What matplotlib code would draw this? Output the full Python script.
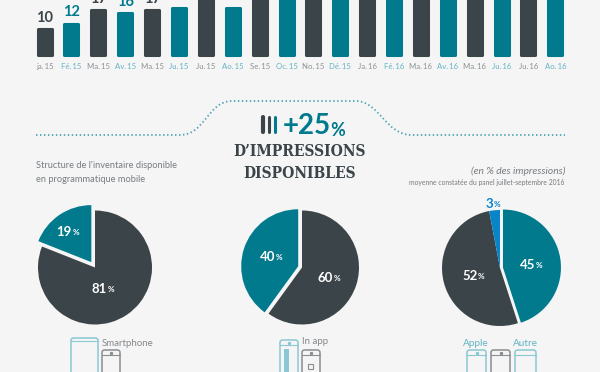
import matplotlib
matplotlib.use("Agg")
import matplotlib.pyplot as plt
from matplotlib.patches import FancyBboxPatch, PathPatch, Rectangle
from matplotlib.path import Path

DARK = '#3b4449'
TEAL = '#007a8c'
BLUE = '#0a84c8'
BG = '#f5f5f5'
GREY = '#8b9093'
LTEAL = '#62b3c2'
FONT = 'Lato'

months = ['ja.\u200915', 'Fé.\u200915', 'Ma.\u200915', 'Av.\u200915', 'Ma.\u200915', 'Ju.\u200915', 'Ju.\u200915',
          'Ao.\u200915', 'Se.\u200915', 'Oc.\u200915', 'No.\u200915', 'Dé.\u200915', 'Ja.\u200916', 'Fé.\u200916',
          'Ma.\u200916', 'Av.\u200916', 'Ma.\u200916', 'Ju.\u200916', 'Ju.\u200916', 'Ao.\u200916']
# the tops above 18 are cut off by the picture, so those are guesses
impressions = [10, 12, 17, 16, 17, 18, 21, 18, 21, 22, 22, 23, 23, 24, 24, 25, 25, 26, 26, 27]
labelled = 5  # only the first labels reach into the picture

pie_device = [81, 19]
pie_device_labels = ['81', '19']
pie_env = [60, 40]
pie_env_labels = ['60', '40']
pie_os = [45, 52, 3]
pie_os_labels = ['45', '52', '3']

fig = plt.figure(figsize=(6, 3.72), dpi=100, facecolor=BG)


def Y(y):
    return 372 - y


# --- page layer in pixels ---
ax = fig.add_axes([0, 0, 1, 1])
ax.set_facecolor(BG)

# --- bars ---
ax_bars = fig.add_axes([0, 1 - 55 / 372, 1, 55 / 372])
ax_bars.patch.set_alpha(0)
step = 26.88
ax_bars.set_xlim(-44.6 / step, (600 - 44.6) / step)
ax_bars.set_ylim(0, 55 / 2.62)
colors = [DARK if i % 2 == 0 else TEAL for i in range(len(impressions))]
bars = ax_bars.bar(range(len(impressions)), impressions, width=0.52, color=colors, edgecolor=colors,
                   linewidth=2.2, joinstyle='round', clip_on=False)
for sp in ax_bars.spines.values():
    sp.set_visible(False)
ax_bars.set_yticks([])
ax_bars.set_xticks(range(len(months)))
ax_bars.set_xticklabels(months, fontsize=5.6, family=FONT)
ax_bars.tick_params(axis='x', length=0, pad=5.5)
for i, t in enumerate(ax_bars.get_xticklabels()):
    t.set_color(GREY if i % 2 == 0 else LTEAL)
for i in range(labelled):
    ax_bars.annotate(str(impressions[i]), (i, impressions[i]), xytext=(0, 8), textcoords='offset points',
                     ha='center', va='center', fontsize=10.5, fontweight='bold', family=FONT, color=colors[i],
                     annotation_clip=False)

# --- dotted line ---
verts = [(36, 135), (180, 135), (205, 135), (208, 101), (232, 101), (355, 101), (380, 101), (385, 135),
         (412, 135), (565, 135)]
codes = [Path.MOVETO, Path.LINETO, Path.CURVE4, Path.CURVE4, Path.CURVE4, Path.LINETO, Path.CURVE4, Path.CURVE4,
         Path.CURVE4, Path.LINETO]
ax.add_patch(PathPatch(Path([(x, Y(y)) for x, y in verts], codes), fill=False, edgecolor='#4ea5b5', lw=1.3,
                       linestyle=(0, (0.8, 1.4))))

# --- headline ---
for x, c, lw in zip([263, 268.8, 274.5], [DARK, DARK, TEAL], [3, 2.2, 2.2]):
    ax.plot([x, x], [Y(117), Y(132)], color=c, lw=lw, solid_capstyle='round')
ax.text(283, Y(126), '+25', fontsize=20, fontweight='bold', family=FONT, color=TEAL, va='center', ha='left')
ax.text(345, Y(130), '%', fontsize=13, fontweight='bold', family=FONT, color=TEAL, va='center', ha='right')
ax.text(300, Y(152), "D’IMPRESSIONS", fontsize=11.2, fontweight='bold', family='DejaVu Serif', stretch='condensed',
        color=DARK, ha='center', va='center')
ax.text(300, Y(173), 'DISPONIBLES', fontsize=11.2, fontweight='bold', family='DejaVu Serif', stretch='condensed',
        color=DARK, ha='center', va='center')

# --- side text ---
ax.text(36, Y(166), "Structure de l'inventaire disponible", fontsize=6.7, family=FONT, color='#777c80', va='center')
ax.text(36, Y(180), 'en programmatique mobile', fontsize=6.7, family=FONT, color='#777c80', va='center')
ax.text(565, Y(171), '(en % des impressions)', fontsize=7.4, family=FONT, style='italic', color='#777c80',
        ha='right', va='center')
ax.text(564, Y(182), 'moyenne constatée du panel juillet-septembre 2016', fontsize=4.9, family=FONT, color='#777c80',
        ha='right', va='center')


# --- pies ---
def pct(x, y, value, color='white', size=9.5):
    t = ax.annotate(value, (x, Y(y)), fontsize=size, fontweight='bold', family=FONT, color=color,
                    ha='right', va='center')
    ax.annotate('%', xy=(1, 0.5), xycoords=t, xytext=(0.5, -0.5), textcoords='offset points', fontsize=size * 0.62,
                fontweight='bold', family=FONT, color=color, ha='left', va='center')


# explode is in the same pixel units as the radius here
ax.pie(pie_device, colors=[DARK, TEAL], startangle=90, counterclock=False, radius=57, center=(95, Y(267.5)),
       explode=[0, 6.5], frame=True)
pct(107, 289, pie_device_labels[0])
pct(71.7, 232, pie_device_labels[1])

ax.pie(pie_env, colors=[DARK, TEAL], startangle=90, counterclock=False, radius=57, center=(302, Y(267.5)),
       explode=[0, 4], frame=True)
pct(333.3, 277.7, pie_env_labels[0])
pct(275, 256.7, pie_env_labels[1])

ax.pie(pie_os, colors=[TEAL, DARK, BLUE], startangle=90, counterclock=False, radius=58, center=(500, Y(268)),
       explode=[3, 0, 0], frame=True)
pct(535, 265, pie_os_labels[0])
pct(477.3, 275.7, pie_os_labels[1])
pct(493, 204, pie_os_labels[2], color=BLUE)


# --- device icons, they run off the bottom of the picture ---
def device(x0, x1, top, color, speaker=True, screen_top=5):
    ax.add_patch(FancyBboxPatch((x0, Y(385)), x1 - x0, 385 - top, boxstyle='round,pad=0,rounding_size=2.5',
                                fill=False, edgecolor=color, lw=1.1))
    ax.plot([x0, x1], [Y(top + screen_top)] * 2, color=color, lw=0.8)
    if speaker:
        ax.plot([(x0 + x1) / 2], [Y(top + 2.5)], 's', ms=1.3, color=color)


ICON_T = '#8ac8d3'
ICON_G = '#8b8f92'
device(71, 98, 338, ICON_T, speaker=False, screen_top=3)
device(102, 120, 350, ICON_G)
ax.text(101.5, Y(343), 'Smartphone', fontsize=7, family=FONT, color='#85898c', va='center')

device(280, 298, 340, ICON_T)
ax.add_patch(Rectangle((284, Y(372)), 5, 372 - 349, color=ICON_T, lw=0))
device(302, 320, 350, ICON_G)
ax.add_patch(Rectangle((307.5, Y(369)), 5, 5, fill=False, edgecolor=ICON_G, lw=0.8))
ax.text(302, Y(342), 'In app', fontsize=7, family=FONT, color='#85898c', va='center')

device(467, 486, 350, ICON_T)
device(491, 510, 350, ICON_G)
device(515, 536, 350, ICON_T, speaker=False)
ax.text(476, Y(343), 'Apple', fontsize=7.2, family=FONT, color=LTEAL, ha='center', va='center')
ax.text(525, Y(343), 'Autre', fontsize=7.2, family=FONT, color=LTEAL, ha='center', va='center')

ax.set_xlim(0, 600)
ax.set_ylim(0, 372)
ax.set_aspect('auto')
ax.set_xticks([])
ax.set_yticks([])
for sp in ax.spines.values():
    sp.set_visible(False)

fig.savefig('out.png', dpi=100, facecolor=BG)
